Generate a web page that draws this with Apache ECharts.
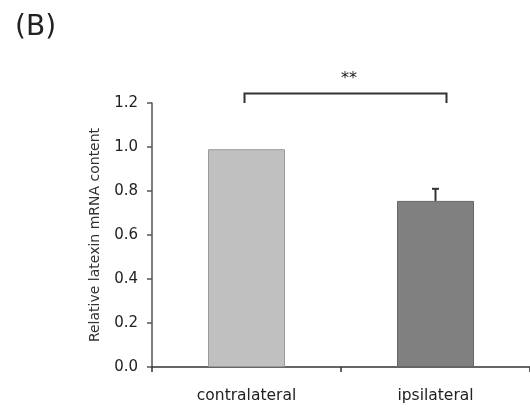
<!DOCTYPE html>
<html>
<head>
<meta charset="utf-8">
<script src="https://cdn.jsdelivr.net/npm/echarts@6/dist/echarts.min.js"></script>
<style>
  html, body { margin: 0; padding: 0; background: #fff; }
  #chart { width: 530px; height: 410px; }
</style>
</head>
<body>
<div id="chart"></div>
<script>
// data
var categories = ["contralateral", "ipsilateral"];
var meanValues = [0.99, 0.755];
var errValues = [0, 0.055];
var barColors = ["#c0c0c0", "#808080"];
var barBorders = ["#9a9a9a", "#676767"];
var yTicks = [0, 1.2, 0.2]; // min, max, step
// significance bracket: from category, to category, foot value, top value, mark
var sigBracket = [[0, 1, 1.2, 1.243, "**"]];

var font = "DejaVu Sans";
var chart = echarts.init(document.getElementById("chart"));

chart.setOption({
  animation: false,
  backgroundColor: "#fff",
  title: {
    text: "(B)",
    left: 10,
    top: 9,
    textStyle: { fontFamily: font, fontSize: 28, fontWeight: "normal", color: "#222" }
  },
  grid: { left: 152, right: -2, top: 103, bottom: 43 },
  xAxis: {
    type: "category",
    data: categories,
    axisLine: { lineStyle: { color: "#333", width: 1.5 } },
    axisTick: { show: true, length: 5, lineStyle: { color: "#333", width: 1.5 } },
    axisLabel: { fontFamily: font, fontSize: 15.5, color: "#222", margin: 21 }
  },
  yAxis: {
    type: "value",
    min: yTicks[0],
    max: yTicks[1],
    interval: yTicks[2],
    name: "Relative latexin mRNA content",
    nameLocation: "middle",
    nameGap: 50,
    nameTextStyle: { fontFamily: font, fontSize: 14, color: "#333" },
    axisLine: { show: true, lineStyle: { color: "#555", width: 1.5 } },
    axisTick: { show: true, length: 5, lineStyle: { color: "#555", width: 1.5 } },
    splitLine: { show: false },
    axisLabel: {
      fontFamily: font, fontSize: 15, color: "#222", margin: 14,
      formatter: function (v) { return v.toFixed(1); }
    }
  },
  series: [
    {
      type: "bar",
      barWidth: 77,
      data: meanValues.map(function (v, i) {
        return {
          value: v,
          itemStyle: { color: barColors[i], borderColor: barBorders[i], borderWidth: 1 }
        };
      }),
      z: 2
    },
    {
      // error bars (upper only)
      type: "custom",
      clip: false,
      z: 3,
      data: meanValues.map(function (v, i) { return [i, v, v + errValues[i]]; }),
      renderItem: function (params, api) {
        if (api.value(2) <= api.value(1)) return null;
        var b = api.coord([api.value(0), api.value(1)]);
        var t = api.coord([api.value(0), api.value(2)]);
        var half = 3.5;
        return {
          type: "group",
          children: [
            { type: "line", shape: { x1: b[0], y1: b[1], x2: t[0], y2: t[1] },
              style: { stroke: "#333", lineWidth: 2 } },
            { type: "line", shape: { x1: t[0] - half, y1: t[1], x2: t[0] + half, y2: t[1] },
              style: { stroke: "#333", lineWidth: 2 } }
          ]
        };
      }
    },
    {
      // significance bracket
      type: "custom",
      clip: false,
      z: 3,
      data: sigBracket,
      renderItem: function (params, api) {
        var a0 = api.coord([api.value(0), api.value(2)]);
        var a1 = api.coord([api.value(0), api.value(3)]);
        var b0 = api.coord([api.value(1), api.value(2)]);
        var b1 = api.coord([api.value(1), api.value(3)]);
        var mark = sigBracket[params.dataIndex][4];
        return {
          type: "group",
          children: [
            { type: "polyline",
              shape: { points: [[a0[0] - 2, a0[1]], [a1[0] - 2, a1[1]], [b1[0] + 11, b1[1]], [b0[0] + 11, b0[1]]] },
              style: { stroke: "#333", lineWidth: 2, fill: null } },
            { type: "text",
              style: {
                x: (a1[0] + b1[0] + 10) / 2 + 3, y: a1[1] - 7,
                text: mark, align: "center", verticalAlign: "bottom",
                font: "16px '" + font + "'", fill: "#222"
              } }
          ]
        };
      }
    }
  ]
});
</script>
</body>
</html>
